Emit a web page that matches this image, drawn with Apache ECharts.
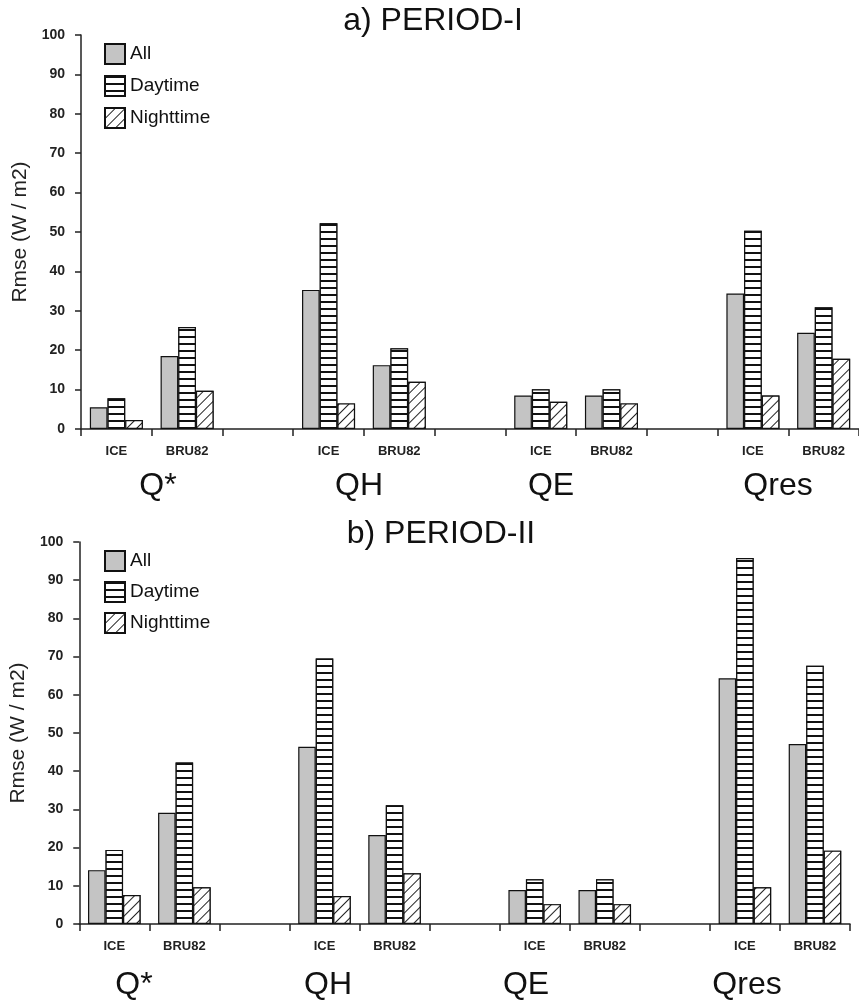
<!DOCTYPE html>
<html>
<head>
<meta charset="utf-8">
<script src="https://cdn.jsdelivr.net/npm/echarts@6/dist/echarts.min.js"></script>
<style>
html,body{margin:0;padding:0;background:#fff;}
#c{width:859px;height:1006px;}
</style>
</head>
<body>
<div id="c"></div>
<script>
// ---- data ----
const groups = ['Q*', 'QH', 'QE', 'Qres'];
const models = ['ICE', 'BRU82'];
const seriesNames = ['All', 'Daytime', 'Nighttime'];
const yTicks = [0, 10, 20, 30, 40, 50, 60, 70, 80, 90, 100];
// values ordered: Q*-ICE, Q*-BRU82, QH-ICE, QH-BRU82, QE-ICE, QE-BRU82, Qres-ICE, Qres-BRU82
const p1All   = [5.5, 18.5, 35.3, 16.2, 8.5, 8.5, 34.4, 24.4];
const p1Day   = [7.8, 25.9, 52.2, 20.5, 10.1, 10.1, 50.3, 30.9];
const p1Night = [2.3, 9.7, 6.5, 12.0, 6.9, 6.5, 8.5, 17.8];
const p2All   = [14.1, 29.1, 46.4, 23.3, 8.9, 8.9, 64.3, 47.1];
const p2Day   = [19.4, 42.3, 69.5, 31.1, 11.7, 11.7, 95.8, 67.6];
const p2Night = [7.6, 9.6, 7.3, 13.3, 5.2, 5.2, 9.6, 19.2];
const titles = ['a) PERIOD-I', 'b) PERIOD-II'];
const yName = 'Rmse (W / m2)';

// ---- build 11-slot categories (empty slot between groups) ----
const cats = [];
groups.forEach((g, gi) => {
  models.forEach(m => cats.push(m));
  if (gi < groups.length - 1) cats.push('');
});
function slots(vals) {
  const out = [];
  let k = 0;
  groups.forEach((g, gi) => {
    models.forEach(() => out.push(vals[k++]));
    if (gi < groups.length - 1) out.push(null);
  });
  return out;
}

const FONT = 'Liberation Sans, Arial, Helvetica, sans-serif';
const styles = [
  { color: '#c4c4c4', borderColor: '#111', borderWidth: 1.2 },
  { color: '#ffffff', borderColor: '#111', borderWidth: 1.2,
    decal: { symbol: 'rect', symbolSize: 1, dashArrayX: [1, 0], dashArrayY: [1.3, 4.7], rotation: 0, color: '#111', backgroundColor: '#ffffff' } },
  { color: '#ffffff', borderColor: '#111', borderWidth: 1.2,
    decal: { symbol: 'rect', symbolSize: 1, dashArrayX: [1, 0], dashArrayY: [1, 6], rotation: -Math.PI / 4, color: '#222', backgroundColor: '#ffffff' } }
];

const grids = [
  { left: 81, top: 35, width: 785, height: 394 },
  { left: 79, top: 542, width: 771, height: 382 }
];

function xAxisFor(i) {
  return {
    type: 'category', gridIndex: i, data: cats,
    axisLine: { lineStyle: { color: '#222', width: 1.5 } },
    axisTick: { show: true, interval: 0, alignWithLabel: false, length: 7, lineStyle: { color: '#222', width: 1.5 } },
    axisLabel: { interval: 0, margin: 16, color: '#222', fontSize: 13, fontWeight: 'bold', fontFamily: FONT },
    splitLine: { show: false }
  };
}
function yAxisFor(i) {
  return {
    type: 'value', gridIndex: i, min: yTicks[0], max: yTicks[yTicks.length - 1], interval: 10,
    name: yName, nameLocation: 'middle', nameRotate: 90, nameGap: 48,
    nameTextStyle: { fontSize: 21, color: '#222', fontFamily: FONT },
    axisLine: { show: true, lineStyle: { color: '#222', width: 1.5 } },
    axisTick: { show: true, length: 6, lineStyle: { color: '#222', width: 1.5 } },
    axisLabel: { margin: 16, color: '#222', fontSize: 14, fontWeight: 'bold', fontFamily: FONT },
    splitLine: { show: false }
  };
}

const data = [[p1All, p1Day, p1Night], [p2All, p2Day, p2Night]];
const series = [];
data.forEach((set, gi) => {
  set.forEach((vals, si) => {
    series.push({
      type: 'bar', name: seriesNames[si], xAxisIndex: gi, yAxisIndex: gi,
      data: slots(vals), barGap: '0%', barCategoryGap: '25%',
      itemStyle: styles[si], emphasis: { disabled: true }
    });
  });
});

const groupX = [[158, 359, 551, 778], [134, 328, 526, 747]];
const groupY = [486, 985];
const graphics = [];
groupX.forEach((xs, pi) => {
  xs.forEach((x, k) => {
    graphics.push({ type: 'text', x: x, y: groupY[pi],
      style: { text: groups[k], fontSize: 32, fontFamily: FONT, fill: '#111', align: 'center', verticalAlign: 'middle' } });
  });
});

const legendBase = {
  orient: 'vertical', left: 104, padding: 0, itemWidth: 20, itemHeight: 20, itemGap: 10, icon: 'rect',
  data: seriesNames, selectedMode: false,
  textStyle: { fontSize: 19, color: '#111', fontFamily: FONT }
};

const option = {
  animation: false,
  backgroundColor: '#fff',
  title: [
    { text: titles[0], left: 428, top: 0, textAlign: 'center', textStyle: { fontSize: 32, fontWeight: 'normal', color: '#111', fontFamily: FONT } },
    { text: titles[1], left: 436, top: 513, textAlign: 'center', textStyle: { fontSize: 32, fontWeight: 'normal', color: '#111', fontFamily: FONT } }
  ],
  legend: [
    Object.assign({}, legendBase, { top: 43 }),
    Object.assign({}, legendBase, { top: 550, itemGap: 9 })
  ],
  grid: grids,
  xAxis: [xAxisFor(0), xAxisFor(1)],
  yAxis: [yAxisFor(0), yAxisFor(1)],
  series: series,
  graphic: graphics
};

const chart = echarts.init(document.getElementById('c'), null, { renderer: 'canvas' });
chart.setOption(option);
</script>
</body>
</html>
